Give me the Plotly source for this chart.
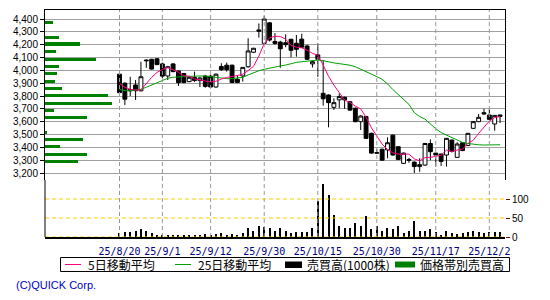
import plotly.graph_objects as go

# ---------------- data ----------------
dates = ["25/8/20","25/8/21","25/8/22","25/8/25","25/8/26","25/8/27","25/8/28","25/8/29",
         "25/9/1","25/9/2","25/9/3","25/9/4","25/9/5","25/9/8","25/9/9","25/9/10","25/9/11","25/9/12",
         "25/9/16","25/9/17","25/9/18","25/9/19","25/9/22","25/9/24","25/9/25","25/9/26","25/9/29","25/9/30",
         "25/10/1","25/10/2","25/10/3","25/10/6","25/10/7","25/10/8","25/10/9","25/10/10","25/10/14","25/10/15",
         "25/10/16","25/10/17","25/10/20","25/10/21","25/10/22","25/10/23","25/10/24","25/10/27","25/10/28",
         "25/10/29","25/10/30","25/10/31","25/11/4","25/11/5","25/11/6","25/11/7","25/11/10","25/11/11",
         "25/11/12","25/11/13","25/11/14","25/11/17","25/11/18","25/11/19","25/11/20","25/11/21","25/11/25",
         "25/11/26","25/11/27","25/11/28","25/12/1","25/12/2","25/12/3","25/12/4"]

opens = [3970,3900,3840,3886,3841,4080,4086,4090,4050,3956,4050,3995,3975,3912,3945,3920,3955,3955,3870,4030,
         4040,4040,3930,3956,4028,4141,4315,4210,4370,4225,4220,4215,4242,4211,4243,4190,4050,4120,3821,3808,
         3712,3770,3790,3755,3705,3600,3640,3509,3358,3385,3380,3495,3405,3275,3305,3285,3250,3262,3430,3355,
         3348,3340,3457,3322,3436,3414,3548,3600,3670,3652,3582,3652]
highs = [3975,3905,3950,3925,4067,4085,4090,4095,4060,4035,4055,4000,3980,3950,3990,3950,3965,3965,3975,4055,
         4060,4045,3960,4025,4250,4175,4365,4425,4375,4290,4230,4280,4245,4275,4285,4200,4075,4210,4080,3812,
         3782,3820,3795,3760,3710,3650,3645,3515,3385,3390,3478,3500,3410,3360,3318,3290,3315,3435,3462,3357,
         3350,3472,3460,3440,3440,3512,3605,3660,3700,3700,3652,3655]
lows = [3820,3730,3800,3769,3835,4020,4005,4040,3940,3925,3985,3878,3900,3908,3910,3870,3865,3865,3865,3995,
        3990,3900,3900,3912,4020,4135,4255,4205,4225,4200,4020,4180,4100,4106,4175,4080,4022,3950,3725,3556,
        3691,3705,3700,3685,3595,3535,3465,3350,3350,3297,3315,3335,3300,3270,3280,3200,3210,3255,3300,3250,
        3255,3250,3360,3318,3370,3410,3545,3598,3655,3612,3530,3590]
closes = [3826,3775,3850,3841,3950,4075,4010,4045,3955,4028,3990,3905,3905,3946,3920,3940,3875,3870,3970,4005,
          4005,3905,3905,4023,4151,4172,4305,4400,4236,4210,4168,4200,4156,4164,4180,4086,4067,4086,3778,3748,
          3748,3795,3770,3690,3600,3644,3470,3355,3355,3300,3436,3340,3306,3355,3300,3250,3265,3430,3366,3340,
          3290,3470,3368,3426,3375,3509,3600,3634,3660,3618,3649,3640]

ma5 = [3899,3868,3852,3846,3848,3898,3945,3984,4007,4023,4006,3985,3957,3955,3933,3923,3917,3910,3915,3932,
       3945,3951,3958,3969,3998,4031,4111,4210,4253,4265,4264,4243,4194,4180,4175,4158,4132,4118,4040,3953,
       3885,3831,3768,3750,3721,3700,3635,3552,3485,3425,3383,3357,3347,3347,3347,3310,3295,3320,3322,3330,
       3338,3379,3367,3379,3386,3430,3456,3509,3556,3604,3632,3640]
ma25 = [3852,3841,3841,3846,3852,3868,3886,3904,3925,3938,3946,3951,3951,3953,3956,3956,3956,3951,3946,3938,
        3935,3935,3938,3946,3964,3982,3997,4008,4018,4028,4034,4041,4054,4062,4067,4072,4078,4080,4075,4065,
        4058,4052,4047,4040,4028,4010,3990,3970,3951,3930,3895,3850,3810,3770,3735,3670,3640,3620,3580,3545,
        3515,3495,3475,3455,3438,3430,3424,3420,3418,3418,3418,3420]

volume = [11,13,13,16,21,17,10,3,3,4,3,4,3,3,6,4,7,3,7,10,4,7,3,10,25,16,28,26,23,15,25,17,10,12,12,12,23,95,
          140,111,59,30,25,23,38,30,56,20,30,15,23,20,28,10,15,41,17,17,20,12,6,15,10,7,10,12,15,12,10,12,12,12]

vbp_price = [4374,4257,4205,4148,4088,4031,3977,3914,3860,3802,3743,3690,3634,3517,3462,3405,3345,3291]
vbp_vol = [8,14,35.3,11.3,51.3,14,12.3,10.3,17.3,63.3,67.3,9.3,42.3,2.3,38.3,15.3,42.3,33.3]

tick_dates = ["25/8/20","25/9/1","25/9/12","25/9/30","25/10/15","25/10/30","25/11/17","25/12/2"]
price_ticks = [3200,3300,3400,3500,3600,3700,3800,3900,4000,4100,4200,4300,4400]
vol_ticks = [0,50,100]

legend_labels = ["5日移動平均", "25日移動平均", "売買高(1000株)", "価格帯別売買高"]
copyright_text = "(C)QUICK Corp."

# ---------------- figure ----------------
W, H = 550, 300
ML, MR, MT, MB = 45, 45, 10, 63
PW, PH = W - ML - MR, H - MT - MB
PINK = "#ff0080"
GREEN_MA = "#00a000"
GREEN_BAR = "#008000"
GRID = "#a0a0a0"
VGRID = "#999999"
GOLD = "#ffcc00"

fig = go.Figure()

fig.add_trace(go.Bar(
    x=vbp_vol, y=vbp_price, orientation="h", xaxis="x2", yaxis="y",
    width=24, marker=dict(color=GREEN_BAR, line=dict(width=0)), hoverinfo="skip"))

fig.add_trace(go.Candlestick(
    x=dates, open=opens, high=highs, low=lows, close=closes,
    xaxis="x", yaxis="y", whiskerwidth=0,
    increasing=dict(fillcolor="white", line=dict(color="black", width=1)),
    decreasing=dict(fillcolor="black", line=dict(color="black", width=1))))

fig.add_trace(go.Scatter(x=dates, y=ma25, mode="lines", line=dict(color=GREEN_MA, width=1),
                         xaxis="x", yaxis="y", hoverinfo="skip"))
fig.add_trace(go.Scatter(x=dates, y=ma5, mode="lines", line=dict(color=PINK, width=1),
                         xaxis="x", yaxis="y", hoverinfo="skip"))

fig.add_trace(go.Bar(x=dates, y=volume, xaxis="x", yaxis="y2", width=0.2,
                     marker=dict(color="black", line=dict(width=0)), hoverinfo="skip"))

x_lo = -13.9
x_hi = x_lo + PW / 5.36

split = (237 - 180) / float(PH)

fig.update_layout(
    width=W, height=H,
    margin=dict(l=ML, r=MR, t=MT, b=MB, pad=0),
    paper_bgcolor="white", plot_bgcolor="white",
    showlegend=False,
    boxgap=0.15, boxgroupgap=0.15,
    bargap=0,
    xaxis=dict(
        type="category", categoryorder="array", categoryarray=dates,
        range=[x_lo, x_hi], anchor="y2",
        rangeslider=dict(visible=False),
        tickmode="array", tickvals=tick_dates, ticktext=tick_dates,
        tickfont=dict(family="DejaVu Sans Mono", size=10, color="#000080"),
        ticks="", ticklabelstandoff=4,
        showgrid=False,
        showline=True, linecolor="black", linewidth=2, zeroline=False,
    ),
    xaxis2=dict(
        overlaying="x", side="top", anchor="y", range=[0, PW],
        showgrid=False, showticklabels=False, ticks="", zeroline=False,
        showline=True, linecolor="black", linewidth=1,
    ),
    yaxis=dict(
        domain=[split, 1], range=[3145.5, 4470.1],
        tickmode="array", tickvals=price_ticks, tickformat=",d",
        tickfont=dict(family="Liberation Sans", size=10, color="black"),
        ticks="outside", ticklen=4, tickcolor="black", tickwidth=1,
        showgrid=True, gridcolor=GRID, gridwidth=1,
        showline=True, mirror=True, linecolor="black", linewidth=1, zeroline=False,
    ),
    yaxis2=dict(
        domain=[0, split], range=[0, 150], anchor="x", side="right",
        tickmode="array", tickvals=vol_ticks,
        tickfont=dict(family="Liberation Sans", size=10, color="black"),
        ticks="outside", ticklen=4, tickcolor="#800000", tickwidth=1,
        showgrid=False, showline=False, zeroline=False,
    ),
)

shapes = []
# vertical dashed date gridlines through both panes
for d in tick_dates:
    for yr in ("y domain", "y2 domain"):
        shapes.append(dict(type="line", xref="x", yref=yr, x0=d, x1=d, y0=0, y1=1, layer="above",
                           line=dict(color=VGRID, width=1, dash="4px,3px")))
# dashed gold volume reference lines
for v in vol_ticks:
    shapes.append(dict(type="line", xref="x domain", yref="y2", x0=0, x1=1, y0=v, y1=v, layer="above",
                       line=dict(color=GOLD, width=1, dash="4px,3px")))
# left axis line through the volume pane
shapes.append(dict(type="line", xref="x domain", yref="y2 domain", x0=0, x1=0, y0=0, y1=1,
                   line=dict(color="black", width=1)))

def px(xp):
    return (xp - ML) / PW

def py(yp):
    return (H - MB - yp) / PH

# legend box
shapes.append(dict(type="rect", xref="paper", yref="paper", x0=px(60.5), x1=px(509.5),
                   y0=py(271.5), y1=py(257.5), line=dict(color="black", width=1), fillcolor="white"))
ly = 264.5
shapes.append(dict(type="line", xref="paper", yref="paper", x0=px(65), x1=px(81), y0=py(ly), y1=py(ly),
                   line=dict(color=PINK, width=1)))
shapes.append(dict(type="line", xref="paper", yref="paper", x0=px(175), x1=px(191), y0=py(ly), y1=py(ly),
                   line=dict(color=GREEN_MA, width=1)))
shapes.append(dict(type="rect", xref="paper", yref="paper", x0=px(285), x1=px(302), y0=py(268), y1=py(261.5),
                   line=dict(width=0), fillcolor="black"))
shapes.append(dict(type="rect", xref="paper", yref="paper", x0=px(395), x1=px(415), y0=py(267.5), y1=py(261.5),
                   line=dict(width=0), fillcolor=GREEN_BAR))
fig.update_layout(shapes=shapes)

ann = []
for label, xs in zip(legend_labels, [86, 196, 305, 418]):
    ann.append(dict(xref="paper", yref="paper", x=px(xs), y=py(ly), xanchor="left", yanchor="middle",
                    text=label, showarrow=False,
                    font=dict(family="Noto Sans CJK JP", size=12, color="black")))
ann.append(dict(xref="paper", yref="paper", x=px(14), y=py(285), xanchor="left", yanchor="middle",
                text=copyright_text, showarrow=False,
                font=dict(family="Liberation Sans", size=11, color="#0000cc")))
fig.update_layout(annotations=ann)

fig.write_html("out.html")
